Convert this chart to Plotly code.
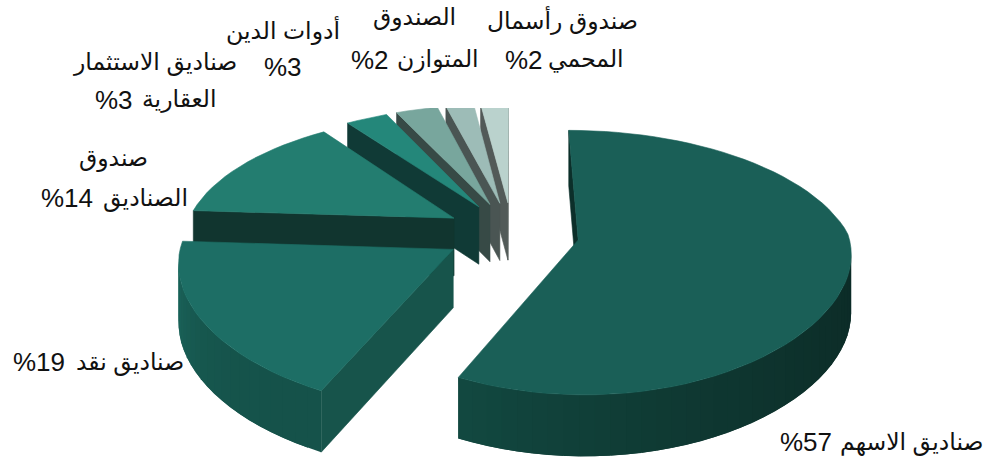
import math
import plotly.graph_objects as go

# Fund allocation shown as an exploded pie with perspective
values = [57, 19, 14, 3, 3, 2, 2]
name_line1 = ["صناديق الاسهم", "صناديق نقد", "صندوق", "صناديق الاستثمار", "أدوات الدين", "الصندوق", "صندوق رأسمال"]
name_line2 = ["", "", "الصناديق", "العقارية", "", "المتوازن", "المحمي"]
top_colors = ["#1a5f57", "#1d6e65", "#237d70", "#24877a", "#78a69d", "#9dbcb7", "#bad2cd"]
face_colors = ["#0c2f2a", "#17544b", "#11352f", "#103a36", "#374a46", "#4a5553", "#525a58"]
# rim shading: colour at slice start angle, colour at slice end angle
rim_colors = [("#0b2622", "#124840"), ("#15524a", "#1d6d63"), ("#11352f", "#11352f"),
              ("#103a36", "#103a36"), ("#374a46", "#374a46"), ("#4a5553", "#4a5553"), ("#525a58", "#525a58")]

W, H = 993, 464
CLIP_TOP = 108
VX, CY = 512, 233
RX, RY = 270, 126
PERSP = 0.17
PERSP_X_FRONT = 0.09
EXPLODE = 0.25
DEPTH = 58
STEP = 3.0
NUM_SIZE = 26
TEXT_SIZE = 23.5


def project(x, y, down=False):
    s = 1 / (1 + PERSP * y)
    sx = s if y > 0 else 1 / (1 + PERSP_X_FRONT * y)
    px = VX + RX * x * sx
    py = CY - RY * y * s
    if down:
        py += DEPTH * s ** 0.3
    return px, py


def signed_area(pts):
    return sum(pts[i][0] * pts[(i + 1) % len(pts)][1] - pts[(i + 1) % len(pts)][0] * pts[i][1]
               for i in range(len(pts))) / 2


def mix(c1, c2, t):
    a = [int(c1[i:i + 2], 16) for i in (1, 3, 5)]
    b = [int(c2[i:i + 2], 16) for i in (1, 3, 5)]
    return "rgb({},{},{})".format(*[round(p + (q - p) * t) for p, q in zip(a, b)])


def polygon(pts, color, edge=0.6):
    xs = [p[0] for p in pts] + [pts[0][0]]
    ys = [p[1] for p in pts] + [pts[0][1]]
    return go.Scatter(x=xs, y=ys, mode="lines", fill="toself", fillcolor=color,
                      line=dict(color=color, width=edge), hoverinfo="skip", showlegend=False)


def wall(a, b):
    return [project(*a), project(*b), project(*b, down=True), project(*a, down=True)]


slices = []
start = 0.0
for i, v in enumerate(values):
    sweep = v / sum(values) * 360
    slices.append((i, start, start + sweep))
    start += sweep

traces = []
# painted from the back of the pie to the front
for i, a0, a1 in sorted(slices, key=lambda t: -math.cos(math.radians((t[1] + t[2]) / 2))):
    mid = math.radians((a0 + a1) / 2)
    ox, oy = EXPLODE * math.sin(mid), EXPLODE * math.cos(mid)
    n = max(2, int(round((a1 - a0) / STEP)))
    ring = []
    for k in range(n + 1):
        ang = math.radians(a0 + (a1 - a0) * k / n)
        ring.append((ox + math.sin(ang), oy + math.cos(ang)))
    apex = (ox, oy)

    # curved outer wall; each band runs under the next so no seams show
    for k in range(n):
        frac = k / max(1, n - 1)
        if signed_area(wall(ring[k], ring[k + 1])) < 0:
            band = wall(ring[k], ring[min(k + 2, n)])
            traces.append(polygon(band, mix(rim_colors[i][0], rim_colors[i][1], frac ** 2.5), edge=0))
    # straight cut faces
    for a, b in ((apex, ring[0]), (ring[-1], apex)):
        q = wall(a, b)
        if signed_area(q) < 0:
            traces.append(polygon(q, face_colors[i]))
    # top surface
    traces.append(polygon([project(*apex)] + [project(*p) for p in ring], top_colors[i]))

fig = go.Figure(traces)


def label(text, px, py, size):
    fig.add_annotation(text=text, x=px / W, y=(H - py) / (H - CLIP_TOP),
                       xref="paper", yref="paper", showarrow=False, xanchor="center", yanchor="middle",
                       font=dict(family="Liberation Sans, DejaVu Sans", size=size, color="#111111"))


# label centres: (name line 1), (name line 2 or None), (percentage)
line1_pos = [(911, 442), (130, 362), (113, 158), (155, 62), (283, 30), (414, 17), (562, 20)]
line2_pos = [None, None, (145, 198), (179, 100), None, (438, 60), (586, 60)]
pct_pos = [(806, 442), (39, 362), (67, 198), (114, 100), (283, 67), (370, 60), (524, 60)]

for i, v in enumerate(values):
    label(name_line1[i], *line1_pos[i], TEXT_SIZE)
    if name_line2[i]:
        label(name_line2[i], *line2_pos[i], TEXT_SIZE)
    label(f"%{v}", *pct_pos[i], NUM_SIZE)

fig.update_layout(
    width=W, height=H, margin=dict(l=0, r=0, t=CLIP_TOP, b=0),
    paper_bgcolor="white", plot_bgcolor="white",
    xaxis=dict(range=[0, W], visible=False, fixedrange=True),
    yaxis=dict(range=[H, CLIP_TOP], visible=False, fixedrange=True),
)
fig.write_html("out.html", config={"displayModeBar": False})
